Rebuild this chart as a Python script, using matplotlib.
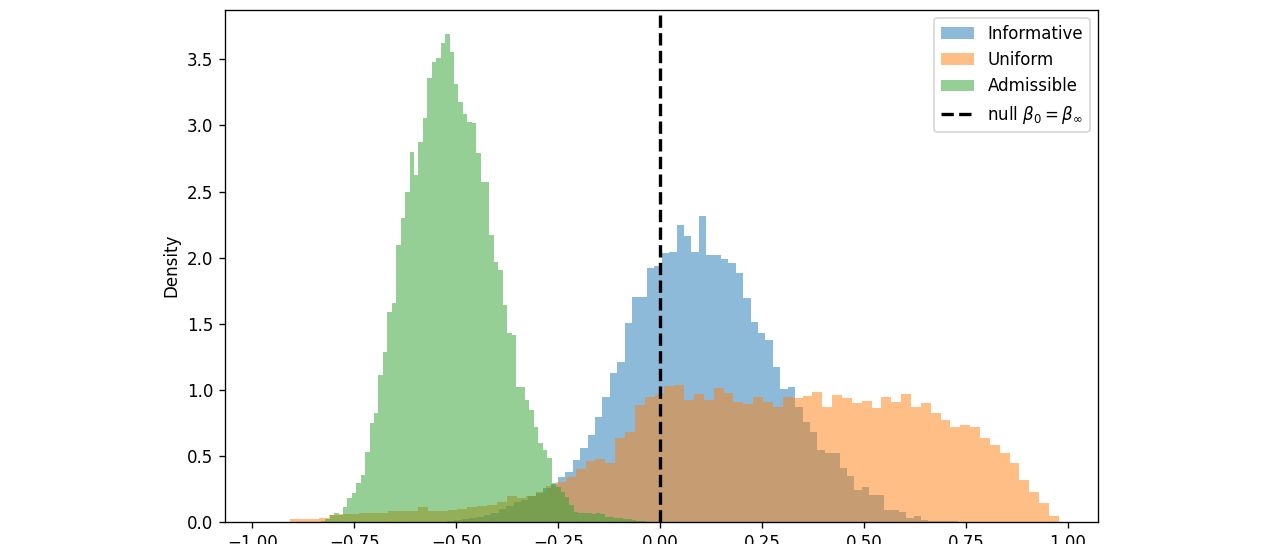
import numpy as np
import matplotlib
matplotlib.use("Agg")
import matplotlib.pyplot as plt

# histogram bin ranges (start, stop)
informative_range = (-0.5228, 0.7309)
uniform_range = (-0.908, 0.978)
admissible_range = (-0.8322, -0.0372)

# bar heights (density) for each histogram, left to right
informative = [
    0.01, 0.015, 0.02, 0.03, 0.04, 0.05, 0.07, 0.10, 0.12, 0.15,
    0.17, 0.20, 0.22, 0.26, 0.29, 0.343, 0.38, 0.47, 0.558, 0.658,
    0.792, 0.948, 1.125, 1.208, 1.503, 1.704, 1.704, 1.919, 1.939, 2.032,
    2.04, 2.247, 2.163, 2.045, 2.315, 2.02, 2.02, 1.987, 1.957, 1.881,
    1.692, 1.515, 1.432, 1.377, 1.175, 1.004, 1.019, 0.872, 0.759, 0.683,
    0.545, 0.52, 0.52, 0.406, 0.348, 0.242, 0.267, 0.204, 0.204, 0.091,
    0.091, 0.078, 0.028, 0.048, 0.015, 0.01, 0.008, 0.005, 0.005,
]
uniform = [
    0.02, 0.02, 0.02, 0.03, 0.05, 0.06, 0.06, 0.07, 0.07, 0.07,
    0.08, 0.08, 0.08, 0.115, 0.08, 0.08, 0.09, 0.10, 0.11, 0.12,
    0.13, 0.15, 0.20, 0.18, 0.20, 0.23, 0.27, 0.30, 0.34, 0.40,
    0.46, 0.48, 0.444, 0.633, 0.683, 0.885, 0.948, 0.97, 1.03, 1.035,
    0.923, 0.966, 0.923, 1.01, 0.978, 0.908, 0.893, 0.948, 0.908, 0.871,
    0.948, 0.935, 0.95, 0.986, 0.872, 0.961, 0.936, 0.898, 0.918, 0.86,
    0.943, 0.91, 0.968, 0.872, 0.898, 0.822, 0.772, 0.716, 0.734, 0.72,
    0.633, 0.583, 0.525, 0.445, 0.318, 0.23, 0.141, 0.046,
]
admissible = [
    0.01, 0.02,
    0.05, 0.07, 0.05, 0.116, 0.184, 0.222, 0.292, 0.355, 0.532, 0.751,
    0.827, 1.112, 1.289, 1.586, 1.654, 2.095, 2.302, 2.499, 2.801, 2.625,
    2.877, 3.053, 3.356, 3.477, 3.508, 3.62, 3.69, 3.555, 3.31, 3.18,
    3.09, 3.025, 3.016, 2.79, 2.574, 2.574, 2.171, 1.969, 1.906, 1.641,
    1.427, 1.415, 1.024, 1.024, 0.923, 0.847, 0.721, 0.595, 0.545, 0.482,
    0.293, 0.266, 0.23, 0.19, 0.13, 0.078, 0.066, 0.066, 0.066, 0.06,
    0.066, 0.06, 0.04, 0.035, 0.028, 0.03, 0.02, 0.025, 0.015, 0.01, 0.01,
]

series = [
    ("Informative", informative, informative_range),
    ("Uniform", uniform, uniform_range),
    ("Admissible", admissible, admissible_range),
]

fig = plt.figure(figsize=(1280 / 120, 544 / 120), dpi=120)
ax = fig.add_axes([225 / 1280, 22 / 544, 873 / 1280, 512.5 / 544])

for label, heights, (lo, hi) in series:
    edges = np.linspace(lo, hi, len(heights) + 1)
    ax.hist(edges[:-1], bins=edges, weights=heights, alpha=0.5, label=label)

ax.axvline(0, color="black", linestyle="--", linewidth=2,
           label=r"null $\beta_0 = \beta_\infty$")

ax.set_xlim(-1.067, 1.074)
ax.set_ylim(0, 3.877)
ax.set_xticks([-1.0, -0.75, -0.5, -0.25, 0.0, 0.25, 0.5, 0.75, 1.0])
ax.set_ylabel("Density")
ax.legend(loc="upper right")

fig.savefig("out.png", dpi=120)
